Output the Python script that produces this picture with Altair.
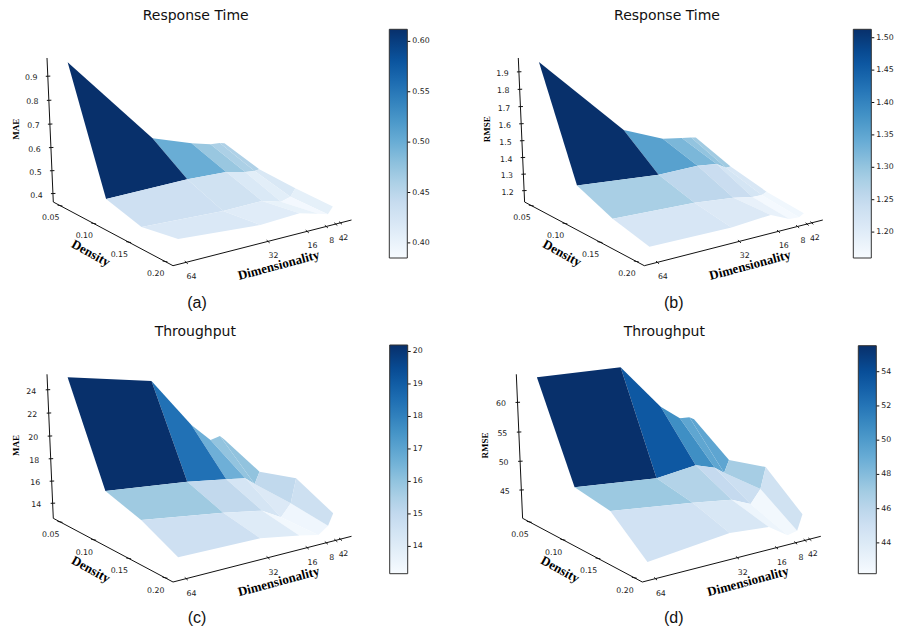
import altair as alt

DIMS = [64, 32, 16, 8, 4, 2]
DENSITIES = [0.05, 0.10, 0.15, 0.20]
BLUES = ["#f7fbff", "#deebf7", "#c6dbef", "#9ecae1", "#6baed6", "#4292c6", "#2171b5", "#08519c", "#08306b"]

# rows: density, columns: dimensionality
MAE_RT = [[0.961, 0.571, 0.512, 0.489, 0.486, 0.480],
          [0.456, 0.462, 0.455, 0.436, 0.431, 0.434],
          [0.414, 0.399, 0.402, 0.378, 0.390, 0.423],
          [0.444, 0.417, 0.425, 0.402, 0.389, 0.418]]
RMSE_RT = [[1.961, 1.469, 1.366, 1.345, 1.335, 1.329],
           [1.341, 1.296, 1.298, 1.282, 1.246, 1.246],
           [1.251, 1.231, 1.205, 1.181, 1.179, 1.193],
           [1.198, 1.191, 1.207, 1.153, 1.149, 1.166]]
MAE_TP = [[25.13, 23.54, 18.92, 17.17, 17.36, 16.93],
          [16.72, 15.95, 15.38, 15.07, 14.35, 15.40],
          [15.74, 14.70, 14.04, 13.00, 14.09, 16.29],
          [14.13, 14.01, 13.37, 12.99, 13.62, 14.65]]
RMSE_TP = [[64.29, 63.52, 55.46, 52.72, 52.57, 52.04],
           [48.58, 47.05, 47.84, 46.67, 45.39, 47.49],
           [47.58, 45.77, 44.70, 43.12, 45.41, 49.12],
           [42.11, 43.60, 42.96, 40.63, 41.04, 43.74]]

PANELS = [
    dict(title="Response Time", tag="(a)", zname="MAE", grid=MAE_RT, zlim=(0.363, 0.975), clim=(0.385, 0.612),
         zticks=[0.4, 0.5, 0.6, 0.7, 0.8, 0.9], zfmt=".1f", cticks=[0.40, 0.45, 0.50, 0.55, 0.60], cfmt=".2f",
         off=(0, 0), bar=(389.3, 29.3, 258), title_x=195.7, tag_x=197, zname_x=15.7),
    dict(title="Response Time", tag="(b)", zname="RMSE", grid=RMSE_RT, zlim=(1.131, 1.979), clim=(1.16, 1.513),
         zticks=[1.2, 1.3, 1.4, 1.5, 1.6, 1.7, 1.8, 1.9], zfmt=".1f", cticks=[1.20, 1.25, 1.30, 1.35, 1.40, 1.45, 1.50], cfmt=".2f",
         off=(471.3, 0), bar=(853.3, 29.3, 258), title_x=667, tag_x=673.7, zname_x=487),
    dict(title="Throughput", tag="(c)", zname="MAE", grid=MAE_TP, zlim=(12.63, 25.32), clim=(13.16, 20.2),
         zticks=[14, 16, 18, 20, 22, 24], zfmt="d", cticks=[14, 15, 16, 17, 18, 19, 20], cfmt="d",
         off=(0, 316.3), bar=(389.7, 345, 573.7), title_x=195.3, tag_x=197, zname_x=15.7),
    dict(title="Throughput", tag="(d)", zname="RMSE", grid=RMSE_TP, zlim=(40, 64.66), clim=(42.2, 55.52),
         zticks=[45, 50, 55, 60], zfmt="d", cticks=[44, 46, 48, 50, 52, 54], cfmt="d",
         off=(469.3, 316.3), bar=(858.3, 345.7, 573.7), title_x=664.3, tag_x=673.7, zname_x=485),
]

M = 8  # page margin
W, H = 886, 619
P, Q, R = 0.07, 0.07, -0.044
VP = (200.0, 3560.0)
FX, FY, AX, AY, LX, LY = 173.0, 265.7, 351.5, 220.0, 53.3, 202.0


def project(dim, dens, w, off=(0, 0)):
    """Perspective projection of (dimensionality, density, height in 0..1)."""
    u = (69 - dim) / 71.7
    v = (0.2107 - dens) / 0.1709
    den = 1 + P * u + Q * v + R * w
    x = FX + u * ((1 + P) * AX - FX) + v * ((1 + Q) * LX - FX) + w * R * VP[0]
    y = FY + u * ((1 + P) * AY - FY) + v * ((1 + Q) * LY - FY) + w * R * VP[1]
    return x / den + off[0] - M, y / den + off[1] - M, den


DIM_L, DIM_R = 69, -2.7
DEN_F, DEN_L = 0.2107, 0.0398

layers = []
rules, small_text, titles, tags, names = [], [], [], [], []

for idx, p in enumerate(PANELS):
    off = p["off"]
    zmin, zmax = p["zlim"]
    wof = lambda z: (z - zmin) / (zmax - zmin)
    feats = []
    for i in range(len(DENSITIES) - 1):
        for j in range(len(DIMS) - 1):
            corners = [(i, j), (i, j + 1), (i + 1, j + 1), (i + 1, j)]
            pts = [project(DIMS[b], DENSITIES[a], wof(p["grid"][a][b]), off) for a, b in corners]
            ring = [[pt[0], pt[1]] for pt in pts] + [[pts[0][0], pts[0][1]]]
            mean = sum(p["grid"][a][b] for a, b in corners) / 4
            feats.append(dict(type="Feature", geometry=dict(type="Polygon", coordinates=[ring]),
                              properties=dict(c=mean), depth=sum(pt[2] for pt in pts) / 4))
    feats.sort(key=lambda f: -f["depth"])
    lo, hi = p["clim"]
    stops = [lo + (hi - lo) * k / 8 for k in range(9)]
    bx, by0, by1 = p["bar"]
    layers.append(
        alt.Chart(alt.Data(values=feats)).mark_geoshape(strokeWidth=0, stroke="transparent").encode(
            color=alt.Color("properties.c:Q",
                            scale=alt.Scale(domain=stops, range=BLUES, interpolate="rgb", clamp=True),
                            legend=alt.Legend(orient="none", legendX=bx - M, legendY=by0 - M, title=None,
                                              direction="vertical", gradientLength=by1 - by0, gradientThickness=18,
                                              gradientStrokeColor="#333333", gradientStrokeWidth=1,
                                              values=p["cticks"], format=p["cfmt"], labelFont="DejaVu Sans",
                                              labelFontSize=7.8, labelColor="#222222", labelOffset=5,
                                              labelOverlap=False)))
        .project(type="identity", scale=1, translate=[0, 0], reflectY=False)
    )
    # colorbar ticks
    for c in p["cticks"]:
        yy = by1 - (c - lo) / (hi - lo) * (by1 - by0) - M
        rules.append(dict(x=bx + 18 - M, x2=bx + 21 - M, y=yy, y2=yy))
    # 3D axes
    a0 = project(DIM_L, DEN_F, 0, off); a1 = project(DIM_R, DEN_F, 0, off); a2 = project(DIM_L, DEN_L, 0, off); a3 = project(DIM_L, DEN_L, 1, off)
    for s, e in ((a0, a1), (a0, a2), (a2, a3)):
        rules.append(dict(x=s[0], y=s[1], x2=e[0], y2=e[1]))
    for z in p["zticks"]:
        t = project(DIM_L, DEN_L, wof(z), off)
        rules.append(dict(x=t[0] - 2, y=t[1], x2=t[0] + 2.5, y2=t[1] - 0.2))
        small_text.append(dict(x=t[0] - 16.5, y=t[1] + 2, t=format(z, p["zfmt"])))
    for d in DENSITIES:
        t = project(DIM_L, d, 0, off)
        rules.append(dict(x=t[0] - 2.5, y=t[1] - 0.5, x2=t[0] + 2.5, y2=t[1] + 0.5))
        small_text.append(dict(x=t[0] - 9.3, y=t[1] + 12.8, t=format(d, ".2f")))
    for d in DIMS:
        t = project(d, DEN_F, 0, off)
        rules.append(dict(x=t[0] - 1.5, y=t[1] - 1.2, x2=t[0] + 1.5, y2=t[1] + 1.5))
        small_text.append(dict(x=t[0] + 5.3, y=t[1] + 15, t=str(d)))
    oy = off[1]
    titles.append(dict(x=p["title_x"] - M, y=15.5 + oy - M, t=p["title"]))
    tags.append(dict(x=p["tag_x"] - M, y=(303 if idx < 2 else 618) - M, t=p["tag"]))
    names.append(dict(x=p["zname_x"] - M, y=129.3 + oy - M, t=p["zname"], a=270, s=9))
    names.append(dict(x=90.7 + off[0] - M, y=253.3 + oy - M, t="Density", a=28.5, s=13))
    names.append(dict(x=278.7 + off[0] - M, y=265.3 + oy - M, t="Dimensionality", a=345, s=13))

X = alt.X("x:Q", scale=alt.Scale(domain=[0, W], nice=False), axis=None)
Y = alt.Y("y:Q", scale=alt.Scale(domain=[H, 0], nice=False), axis=None)

rule_layer = alt.Chart(alt.Data(values=rules)).mark_rule(color="#111111", strokeWidth=1).encode(
    x=X, y=Y, x2="x2:Q", y2="y2:Q")
small_layer = alt.Chart(alt.Data(values=small_text)).mark_text(
    font="DejaVu Sans", fontSize=7.8, color="#222222", align="center", baseline="middle").encode(x=X, y=Y, text="t:N")
title_layer = alt.Chart(alt.Data(values=titles)).mark_text(
    font="DejaVu Sans", fontSize=14, color="#111111", align="center", baseline="middle").encode(x=X, y=Y, text="t:N")
tag_layer = alt.Chart(alt.Data(values=tags)).mark_text(
    font="Liberation Sans", fontSize=16, color="#111111", align="center", baseline="middle").encode(x=X, y=Y, text="t:N")
name_layer = alt.Chart(alt.Data(values=names)).mark_text(
    font="Liberation Serif", fontWeight="bold", color="#000000", align="center", baseline="middle").encode(
    x=X, y=Y, text="t:N", angle=alt.Angle("a:Q", scale=None), size=alt.Size("s:Q", scale=None, legend=None))

chart = alt.layer(*layers, rule_layer, small_layer, title_layer, tag_layer, name_layer).resolve_scale(
    color="independent"
).properties(width=W, height=H, autosize=alt.AutoSizeParams(type="none"), padding=0
).configure_view(stroke=None)

chart.save("out.html", embed_options={"renderer": "svg", "actions": False})
